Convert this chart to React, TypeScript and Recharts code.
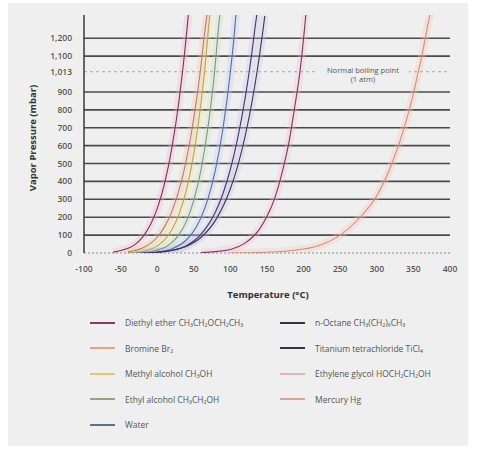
import React from "react";
import { LineChart, Line, XAxis, YAxis, ReferenceLine, Label } from "recharts";

type Pt = [number, number];

// vapour pressure (mbar) against temperature (°C)
const diethylEther: Pt[] = [
  [-60, 5], [-40, 26], [-30, 48], [-20, 89], [-10, 152], [0, 248], [10, 388],
  [20, 586], [30, 858], [34.6, 1013], [40, 1221], [42.5, 1330],
];
const bromine: Pt[] = [
  [-40, 7], [-20, 28], [0, 88], [10, 146], [20, 231], [30, 354], [40, 523],
  [50, 753], [58.8, 1013], [65, 1238], [68, 1330],
];
const methylAlcohol: Pt[] = [
  [-40, 2], [-20, 10], [0, 40], [10, 74], [20, 130], [30, 219], [40, 354],
  [50, 555], [60, 845], [64.7, 1013], [70, 1251], [71.8, 1330],
];
const ethylAlcohol: Pt[] = [
  [-30, 1.5], [-10, 7], [0, 16], [10, 31], [20, 58], [30, 104], [40, 178],
  [50, 294], [60, 468], [70, 722], [78.4, 1013], [84, 1270], [85.5, 1330],
];
const water: Pt[] = [
  [-20, 1], [0, 6], [20, 23], [40, 74], [50, 123], [60, 199], [70, 311],
  [80, 473], [90, 700], [100, 1013], [105, 1209], [107.5, 1330],
];
const nOctane: Pt[] = [
  [-20, 1], [0, 4], [20, 14], [40, 41], [60, 105], [80, 233], [90, 334],
  [100, 468], [110, 642], [120, 863], [125.7, 1013], [130, 1141], [134, 1270], [136, 1330],
];
const titaniumTetrachloride: Pt[] = [
  [0, 5], [20, 15], [40, 38], [60, 88], [80, 185], [100, 359], [110, 487],
  [120, 650], [130, 856], [136.4, 1013], [140, 1111], [145, 1260], [147, 1325],
];
const ethyleneGlycol: Pt[] = [
  [60, 2], [100, 20], [120, 55], [140, 135], [150, 205], [160, 300], [170, 440],
  [180, 620], [188, 820], [195, 1013], [200, 1200], [203, 1330],
];
const mercury: Pt[] = [
  [100, 0.4], [150, 4], [200, 22], [225, 48], [250, 100], [275, 190], [300, 320],
  [320, 493], [340, 736], [350, 890], [356.7, 1013], [360, 1071], [370, 1281], [373, 1340],
];

const xTicks = [-100, -50, 0, 50, 100, 150, 200, 250, 300, 350, 400];
const yTicks = [0, 100, 200, 300, 400, 500, 600, 700, 800, 900, 1013, 1100, 1200];
const yTickLabels: Record<number, string> = { 1013: "1,013", 1100: "1,100", 1200: "1,200" };

const series = [
  { key: "ether", name: "Diethyl ether CH₃CH₂OCH₂CH₃", pts: diethylEther, line: "#6e3563", halo: "#f5b2c8", mark: "#8a3a5e" },
  { key: "bromine", name: "Bromine Br₂", pts: bromine, line: "#b07a86", halo: "#f8c39e", mark: "#eba27a" },
  { key: "methanol", name: "Methyl alcohol CH₃OH", pts: methylAlcohol, line: "#b9a25c", halo: "#f2e08e", mark: "#e2c66a" },
  { key: "ethanol", name: "Ethyl alcohol CH₃CH₂OH", pts: ethylAlcohol, line: "#7f8f98", halo: "#c6e2ac", mark: "#93a486" },
  { key: "water", name: "Water", pts: water, line: "#5a6aa0", halo: "#b6cbf2", mark: "#5f6f92" },
  { key: "octane", name: "n-Octane CH₃(CH₂)₆CH₃", pts: nOctane, line: "#3f3468", halo: "#cdbdea", mark: "#34323f" },
  { key: "ticl4", name: "Titanium tetrachloride TiCl₄", pts: titaniumTetrachloride, line: "#35355a", halo: "#c0c4e4", mark: "#34323f" },
  { key: "glycol", name: "Ethylene glycol HOCH₂CH₂OH", pts: ethyleneGlycol, line: "#7e3460", halo: "#f2b8ca", mark: "#e3b3c3" },
  { key: "mercury", name: "Mercury Hg", pts: mercury, line: "#d58a80", halo: "#f6c6b0", mark: "#dba0a0" },
];

const legendLeft = series.filter((s) => ["ether", "bromine", "methanol", "ethanol", "water"].includes(s.key));
const legendRight = series.filter((s) => ["octane", "ticl4", "glycol", "mercury"].includes(s.key));

const FONT = "'Open Sans', 'Liberation Sans', sans-serif";
const BG = "#efeff0";

const tickStyle = { fontSize: 8.5, fill: "#555", fontWeight: 600, fontFamily: FONT };

const BoilingLabel = (props: any) => {
  const { viewBox } = props;
  const cx = viewBox.x + viewBox.width * 0.762;
  const y = viewBox.y;
  return (
    <g>
      <rect x={cx - 46} y={y - 8} width={92} height={20} fill={BG} />
      <text x={cx} y={y + 1} textAnchor="middle" fontSize={7.5} fill="#555" fontFamily={FONT}>
        Normal boiling point
      </text>
      <text x={cx} y={y + 10} textAnchor="middle" fontSize={7.5} fill="#555" fontFamily={FONT}>
        (1 atm)
      </text>
    </g>
  );
};

const LegendItem = ({ s }: { s: (typeof series)[number] }) => (
  <div style={{ display: "flex", alignItems: "center", height: 25.5 }}>
    <div style={{ width: 25, height: 2, background: s.mark, marginRight: 10 }} />
    <span style={{ fontSize: 8.5, color: "#555", whiteSpace: "nowrap" }}>{s.name}</span>
  </div>
);

export default function App() {
  return (
    <div style={{ position: "absolute", left: 0, top: 0, width: 477, height: 449, background: "#fff", fontFamily: FONT }}>
      <div style={{ position: "absolute", left: 8, top: 3, width: 460, height: 443, background: BG }} />
      <div style={{ position: "absolute", left: 0, top: 0 }}>
        <LineChart width={477} height={300} margin={{ top: 15, right: 27, bottom: 17, left: 34 }}>
          <XAxis
            type="number"
            dataKey="t"
            domain={[-100, 400]}
            ticks={xTicks}
            allowDataOverflow
            axisLine={false}
            tickLine={false}
            tickSize={0}
            tickMargin={13}
            tick={tickStyle}
            height={30}
          />
          <YAxis
            type="number"
            dataKey="p"
            domain={[0, 1330]}
            ticks={yTicks}
            allowDataOverflow
            width={50}
            axisLine={{ stroke: "#3a3a3a", strokeWidth: 1.5 }}
            tickLine={false}
            tickSize={0}
            tickMargin={12}
            tick={tickStyle}
            tickFormatter={(v: number) => yTickLabels[v] ?? String(v)}
          />
          {yTicks
            .filter((v) => v !== 0 && v !== 1013)
            .map((v) => (
              <ReferenceLine key={v} y={v} stroke="#4a4a4a" strokeWidth={1.6} />
            ))}
          <ReferenceLine y={0} stroke="#8a8a8a" strokeWidth={1.2} strokeDasharray="2 2" />
          {series.map((s) => (
            <Line
              key={s.key + "-halo"}
              data={s.pts.map(([t, p]) => ({ t, p }))}
              dataKey="p"
              type="monotone"
              stroke={s.halo}
              strokeOpacity={0.3}
              strokeWidth={8}
              dot={false}
              activeDot={false}
              legendType="none"
              isAnimationActive={false}
            />
          ))}
          <ReferenceLine y={1013} stroke="#a8a8a8" strokeWidth={1} strokeDasharray="3 3">
            <Label content={<BoilingLabel />} />
          </ReferenceLine>
          {series.map((s) => (
            <Line
              key={s.key}
              name={s.name}
              data={s.pts.map(([t, p]) => ({ t, p }))}
              dataKey="p"
              type="monotone"
              stroke={s.line}
              strokeWidth={1.1}
              dot={false}
              activeDot={false}
              isAnimationActive={false}
            />
          ))}
        </LineChart>
      </div>
      <div
        style={{
          position: "absolute",
          left: 32,
          top: 138,
          transform: "translate(-50%, -50%) rotate(-90deg)",
          fontSize: 9.5,
          fontWeight: 700,
          color: "#333",
          whiteSpace: "nowrap",
        }}
      >
        Vapor Pressure (mbar)
      </div>
      <div
        style={{
          position: "absolute",
          left: 268,
          top: 294,
          transform: "translate(-50%, -50%)",
          fontSize: 9.5,
          fontWeight: 700,
          color: "#333",
          whiteSpace: "nowrap",
        }}
      >
        Temperature (°C)
      </div>
      <div style={{ position: "absolute", left: 90, top: 310 }}>
        {legendLeft.map((s) => (
          <LegendItem key={s.key} s={s} />
        ))}
      </div>
      <div style={{ position: "absolute", left: 280, top: 310 }}>
        {legendRight.map((s) => (
          <LegendItem key={s.key} s={s} />
        ))}
      </div>
    </div>
  );
}
